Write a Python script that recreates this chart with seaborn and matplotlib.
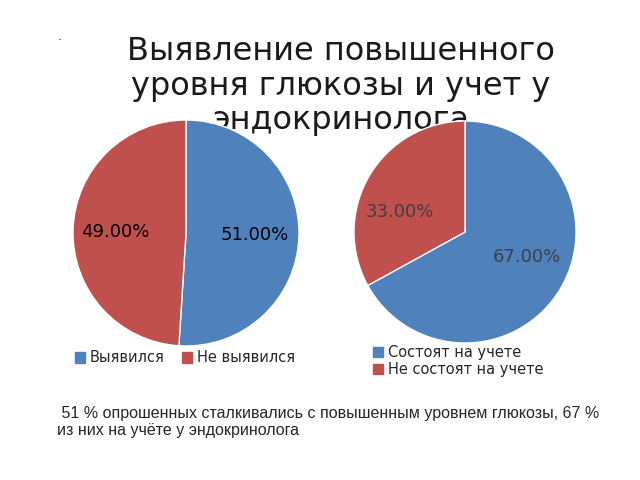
import matplotlib
matplotlib.use("Agg")
import matplotlib.pyplot as plt
import seaborn as sns
from matplotlib.patches import Patch

sns.set_style("white")
plt.rcParams['font.family'] = ['DejaVu Sans']

left_labels = ["Выявился", "Не выявился"]
left_values = [51, 49]
right_labels = ["Состоят на учете", "Не состоят на учете"]
right_values = [67, 33]
colors = sns.color_palette(["#4F81BD", "#C0504D"])

fig = plt.figure(figsize=(6.4, 4.8), dpi=100)
fig.text(341/640, 1-86/480, "Выявление повышенного\nуровня глюкозы и учет у\nэндокринолога",
         ha="center", va="center", fontsize=23, linespacing=1.15, color="#1a1a1a", zorder=-1)
fig.text(58/640, 1-40/480, ".", fontsize=9)

def pie(cx, cy, r, values, labpos, labcol):
    ax = fig.add_axes([(cx-r)/640, 1-(cy+r)/480, 2*r/640, 2*r/480])
    ax.patch.set_alpha(0)
    ax.pie(values, colors=colors, startangle=90, counterclock=False,
           radius=1, wedgeprops=dict(edgecolor="white", linewidth=1))
    ax.set_xlim(-1, 1); ax.set_ylim(-1, 1); ax.set_aspect("auto"); ax.axis("off")
    for v, (px, py) in zip(values, labpos):
        fig.text(px/640, 1-py/480, f"{v:.2f}%", ha="center", va="center",
                 fontsize=13, color=labcol)
    return ax

pie(186, 233, 113, left_values, [(255, 235), (115, 232)], "black")
pie(465, 232, 111, right_values, [(527, 257), (400, 212)], "#404040")

fig.legend(handles=[Patch(color=colors[i], label=left_labels[i]) for i in range(2)],
           loc="center left", bbox_to_anchor=(62/640, 1-358/480), ncol=2, frameon=False,
           fontsize=10.5, handlelength=0.7, handleheight=0.7, handletextpad=0.3, columnspacing=1.2)
fig.legend(handles=[Patch(color=colors[i], label=right_labels[i]) for i in range(2)],
           loc="center left", bbox_to_anchor=(360/640, 1-361/480), ncol=1, frameon=False,
           fontsize=10.5, handlelength=0.7, handleheight=0.7, handletextpad=0.3, labelspacing=0.1)

fig.text(57/640, 1-422/480,
         " 51 % опрошенных сталкивались с повышенным уровнем глюкозы, 67 %\nиз них на учёте у эндокринолога",
         ha="left", va="center", fontsize=11.5, family="Liberation Sans", linespacing=1.1)

fig.savefig("out.png", dpi=100)
